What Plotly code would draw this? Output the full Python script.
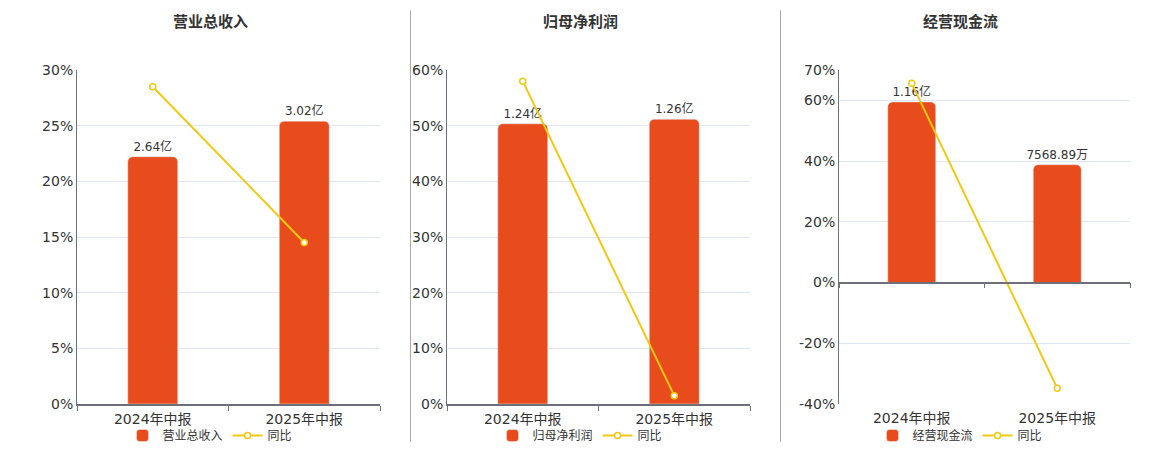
import plotly.graph_objects as go

W, H = 1160, 450
TOP, BOTTOM = 70, 45  # plot area: y 70..405 px

periods = ["2024年中报", "2025年中报"]

titles = ["营业总收入", "归母净利润", "经营现金流"]
bar_values = [[2.64, 3.02], [1.24, 1.26], [1.16, 0.756889]]  # 亿
bar_labels = [["2.64亿", "3.02亿"], ["1.24亿", "1.26亿"], ["1.16亿", "7568.89万"]]
yoy_pct = [[28.5, 14.5], [58.0, 1.5], [65.6, -34.8]]

pct_ranges = [[0, 30], [0, 60], [-40, 70]]
pct_ticks = [[0, 5, 10, 15, 20, 25, 30],
             [0, 10, 20, 30, 40, 50, 60],
             [-40, -20, 0, 20, 40, 60, 70]]
bar_ranges = [[0, 3.566], [0, 1.478], [-0.78, 1.365]]

# pixel extents of each plot area
x_px = [(77, 380), (447, 750), (839, 1130)]
title_x = [210, 580, 960]
separators = [410.5, 780.5]

BAR = "#E84C1C"
LINE = "#F2C811"
AXIS = "#6E7079"
GRID = "#E0E6F1"
TXT = "#333333"
FONT = "DejaVu Sans, Noto Sans CJK SC, sans-serif"

plot_h = H - TOP - BOTTOM


def py(px):
    # pixel y -> paper y
    return (H - BOTTOM - px) / plot_h


fig = go.Figure()
layout = {}
annotations = []
shapes = []

for i in range(3):
    n = i + 1
    xid = "x" if n == 1 else f"x{n}"
    ybar = "y" if n == 1 else f"y{n}"
    ypct = f"y{n + 3}"
    leg = "legend" if n == 1 else f"legend{n}"
    dom = [x_px[i][0] / W, x_px[i][1] / W]

    fig.add_trace(go.Bar(
        x=periods, y=bar_values[i], text=bar_labels[i],
        textposition="outside", cliponaxis=False, constraintext="none",
        textfont=dict(size=12, color=TXT),
        marker=dict(color=BAR), width=0.33,
        name=titles[i], xaxis=xid, yaxis=ybar, legend=leg,
        hoverinfo="x+text",
    ))
    fig.add_trace(go.Scatter(
        x=periods, y=yoy_pct[i], mode="lines+markers",
        line=dict(color=LINE, width=2),
        marker=dict(size=6, color="white", line=dict(color=LINE, width=1.5)),
        name="同比", xaxis=xid, yaxis=ypct, legend=leg, cliponaxis=False,
    ))

    lo, hi = pct_ranges[i]
    on_zero = lo < 0
    layout["xaxis" if n == 1 else f"xaxis{n}"] = dict(
        domain=dom, anchor=ybar, type="category",
        showline=not on_zero, linecolor=AXIS, linewidth=1.5,
        ticks="" if on_zero else "outside", tickson="boundaries",
        ticklen=5, tickcolor=AXIS, ticklabelstandoff=4 if on_zero else 1,
        showgrid=False, tickfont=dict(size=14, color=TXT),
    )
    layout["yaxis" if n == 1 else f"yaxis{n}"] = dict(
        range=bar_ranges[i], visible=False, showgrid=False, anchor=xid,
    )
    layout[f"yaxis{n + 3}"] = dict(
        overlaying=ybar, anchor=xid, side="left", range=pct_ranges[i],
        tickvals=pct_ticks[i], ticktext=[f"{v}%" for v in pct_ticks[i]],
        showline=True, linecolor=AXIS, linewidth=1,
        showgrid=True, gridcolor=GRID, gridwidth=1,
        zeroline=on_zero, zerolinecolor=AXIS, zerolinewidth=1.5,
        tickfont=dict(size=14, color=TXT), ticks="",
    )
    if on_zero:
        # axis line with boundary ticks drawn at the 0% level
        fig.add_trace(go.Scatter(
            x=[None], y=[None], xaxis="x4", yaxis=ybar,
            showlegend=False, hoverinfo="skip",
        ))
        layout["xaxis4"] = dict(
            overlaying=xid, anchor="free", position=(0 - lo) / (hi - lo),
            range=[-0.5, 1.5], tickvals=[-0.5, 0.5, 1.5],
            showticklabels=False, ticks="outside", ticklen=5,
            tickcolor=AXIS, showline=True, linecolor=AXIS, linewidth=1.5,
            showgrid=False, zeroline=False,
        )
    layout[leg] = dict(
        orientation="h", x=title_x[i] / W, xanchor="center",
        y=py(437), yanchor="middle", font=dict(size=12, color=TXT),
        bgcolor="rgba(0,0,0,0)", itemwidth=30,
    )
    annotations.append(dict(
        text=f"<b>{titles[i]}</b>", xref="paper", yref="paper",
        x=title_x[i] / W, y=py(22), xanchor="center", yanchor="middle",
        showarrow=False, font=dict(size=15, color=TXT),
    ))

for sx in separators:
    shapes.append(dict(
        type="line", xref="paper", yref="paper",
        x0=sx / W, x1=sx / W, y0=py(10), y1=py(443),
        line=dict(color="#AAAAAA", width=1),
    ))

fig.update_layout(
    **layout,
    width=W, height=H,
    margin=dict(l=0, r=0, t=TOP, b=BOTTOM),
    paper_bgcolor="white", plot_bgcolor="white",
    font=dict(family=FONT, color=TXT),
    barcornerradius=5,
    annotations=annotations, shapes=shapes,
    showlegend=True,
)

fig.write_html("out.html", config={"displayModeBar": False},
               post_script="document.body.style.margin='0';")
